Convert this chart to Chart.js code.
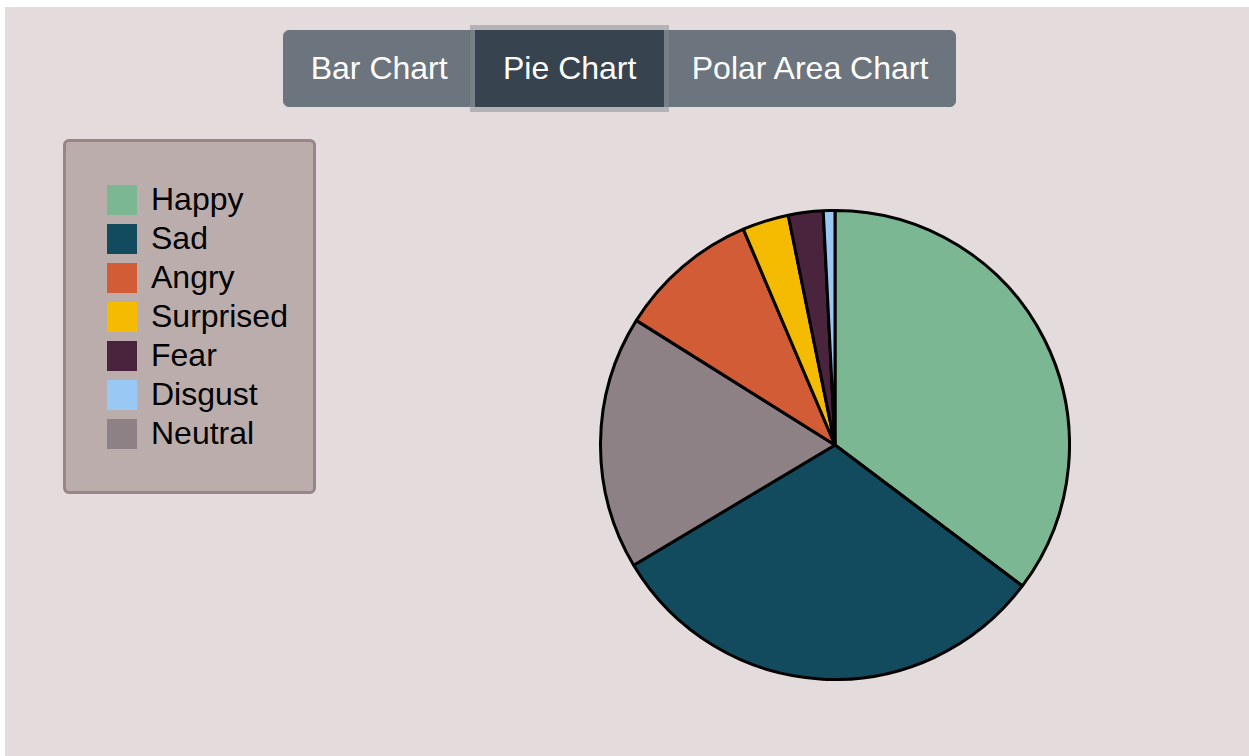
<!DOCTYPE html>
<html>
<head>
<meta charset="utf-8">
<script src="https://cdn.jsdelivr.net/npm/chart.js@4"></script>
<style>
  html, body { margin: 0; padding: 0; background: #fff; width: 1249px; height: 756px; overflow: hidden; }
  body { font-family: "Liberation Sans", Arial, sans-serif; }
  .page { position: absolute; left: 5px; top: 7px; right: 0; bottom: 0; background: #e3dbdc; }
  .btn-group { position: absolute; left: 278px; top: 23px; height: 77px; display: flex; }
  .btn {
    box-sizing: border-box; height: 77px; line-height: 75px; padding: 0 26.7px;
    font-size: 32px; color: #fff; background: #6c757d; border: 1px solid #6c757d;
    white-space: nowrap; position: relative;
  }
  .btn:first-child { border-radius: 6px 0 0 6px; }
  .btn:last-child { border-radius: 0 6px 6px 0; }
  .btn.active { background: #37434e; border-color: #37434e; box-shadow: 0 0 0 5px rgba(130,138,145,.5); z-index: 1; }
  .legend {
    position: absolute; left: 58px; top: 132px; width: 253px; height: 355px;
    box-sizing: border-box; border: 3px solid #9b8488; border-radius: 6px;
    background: #bcadad; padding: 38px 0 0 41px;
  }
  .legend .item { display: flex; align-items: center; height: 39px; font-size: 32px; color: #000; }
  .legend .sw { width: 30px; height: 30px; margin-right: 14px; flex: none; }
  #pie { position: absolute; left: 599px; top: 209px; }
</style>
</head>
<body>
<div class="page">
  <div class="btn-group">
    <div class="btn">Bar Chart</div>
    <div class="btn active">Pie Chart</div>
    <div class="btn">Polar Area Chart</div>
  </div>
  <div class="legend" id="legend"></div>
</div>
<canvas id="pie" width="472" height="472"></canvas>
<script>
// Orden de las porciones (sentido horario desde arriba)
const emociones = ["Happy", "Sad", "Neutral", "Angry", "Surprised", "Fear", "Disgust"];
const porcentajes = [35.3, 31.2, 17.5, 9.7, 3.2, 2.4, 0.8];
const colores = ["#7bb792", "#124a5e", "#8e8186", "#d15c36", "#f5bb00", "#4a233d", "#9ac8f5"];

// Orden de la leyenda
const ordenLeyenda = ["Happy", "Sad", "Angry", "Surprised", "Fear", "Disgust", "Neutral"];

const legend = document.getElementById("legend");
legend.innerHTML = ordenLeyenda.map(n =>
  `<div class="item"><span class="sw" style="background:${colores[emociones.indexOf(n)]}"></span>${n}</div>`
).join("");

new Chart(document.getElementById("pie"), {
  type: "pie",
  data: {
    labels: emociones,
    datasets: [{ data: porcentajes, backgroundColor: colores, borderColor: "#000", borderWidth: 3 }]
  },
  options: {
    responsive: false,
    animation: false,
    layout: { padding: 0 },
    plugins: { legend: { display: false }, tooltip: { enabled: false } }
  }
});
</script>
</body>
</html>
